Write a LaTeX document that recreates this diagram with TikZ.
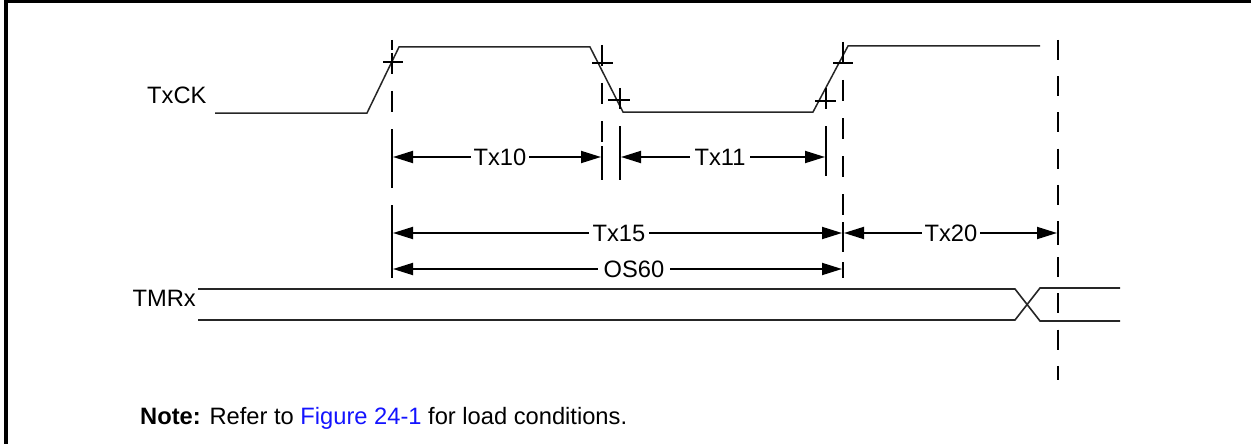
\documentclass[tikz,border=0pt]{standalone}
\usepackage{fontspec}
\setmainfont{Liberation Sans}
\usetikzlibrary{arrows.meta}
\definecolor{linkblue}{RGB}{20,20,255}
\begin{document}
\begin{tikzpicture}[x=1pt,y=-1pt,
  every node/.style={font=\fontsize{23.7}{28}\selectfont, inner sep=0pt},
  sig/.style={line width=1.5pt, draw=black!85},
  tick/.style={line width=1.6pt},
  guide/.style={line width=2.6pt, dash pattern=on 21pt off 17pt},
  endtick/.style={line width=2.4pt},
  dim/.style={line width=1.8pt, {Triangle[length=20pt,width=12pt]}-{Triangle[length=20pt,width=12pt]}},
  lbl/.style={fill=white, inner xsep=3pt, inner ysep=2pt},
  frame/.style={line width=3.2pt}]
\useasboundingbox (0,0) rectangle (1251,444);
% frame
\draw[frame] (6,0) -- (6,444);
\draw[frame] (6,1.6) -- (1251,1.6);
% signal names
\node[anchor=base west] (txck) at (147,103) {TxCK};
\node[anchor=base east] (tmrx) at (196,306) {TMRx};
% TxCK waveform
\draw[sig] (215,113) -- (367,113) -- (399,47) -- (590,47) -- (623,112) -- (813,112) -- (848,46) -- (1040,46);
% edge ticks
\draw[tick] (383,62) -- (403,62);
\draw[tick] (592,63) -- (613,63);
\draw[tick] (608,100) -- (630,100);
\draw[tick] (815,101) -- (836,101);
\draw[tick] (833,63) -- (853,63);
% guide lines
\coordinate (g1t) at (392,53);  \coordinate (g1b) at (392,268);
\coordinate (g2t) at (602,45);  \coordinate (g2b) at (602,182);
\coordinate (g3t) at (620,88);  \coordinate (g3b) at (620,180);
\coordinate (g4t) at (826,88);  \coordinate (g4b) at (826,176);
\coordinate (g5t) at (843,42);  \coordinate (g5b) at (843,252);
\coordinate (g6t) at (1058,40); \coordinate (g6b) at (1058,380);
\draw[line width=2.6pt] (392,40) -- (392,50);
\foreach \g in {1,...,5} \draw[guide] (g\g t) -- (g\g b);
\draw[guide, dash pattern=on 20pt off 16.2pt] (g6t) -- (g6b);
% dimension end ticks
\draw[endtick] (392,146) -- (392,168);
\draw[endtick] (602,146) -- (602,168);
\draw[endtick] (620,146) -- (620,168);
\draw[endtick] (826,146) -- (826,168);
\draw[endtick] (392,222) -- (392,245);
\draw[endtick] (843,222) -- (843,250);
\draw[endtick] (1058,222) -- (1058,245);
\draw[endtick] (392,262) -- (392,278);
\draw[endtick] (843,262) -- (843,278);
% dimension arrows
\coordinate (a10l) at (393,157); \coordinate (a10r) at (601,157);
\coordinate (a11l) at (621,157); \coordinate (a11r) at (825,157);
\coordinate (a15l) at (393,233); \coordinate (a15r) at (842,233);
\coordinate (a20l) at (844,233); \coordinate (a20r) at (1057,233);
\coordinate (a60l) at (393,269); \coordinate (a60r) at (842,269);
\draw[dim] (a10l) -- (a10r);
\draw[dim] (a11l) -- (a11r);
\draw[dim] (a15l) -- (a15r);
\draw[dim] (a20l) -- (a20r);
\draw[dim] (a60l) -- (a60r);
\node[lbl] (tx10) at (500,157) {Tx10};
\node[lbl, inner xsep=5pt] (tx11) at (720,157) {Tx11};
\node[lbl, inner xsep=4pt] (tx15) at (619,233) {Tx15};
\node[lbl] (tx20) at (951,233) {Tx20};
\node[lbl, inner xsep=6pt] (os60) at (634,269) {OS60};
% TMRx bus
\draw[sig, line width=1.6pt] (198,289) -- (1015,289) -- (1040,321) -- (1120,321);
\draw[sig, line width=1.6pt] (198,320) -- (1015,320) -- (1040,288) -- (1120,288);
% note
\node[anchor=base west] (note) at (140,424) {\textbf{Note:} Refer to \textcolor{linkblue}{Figure 24-1} for load conditions.};
\end{tikzpicture}
\end{document}
